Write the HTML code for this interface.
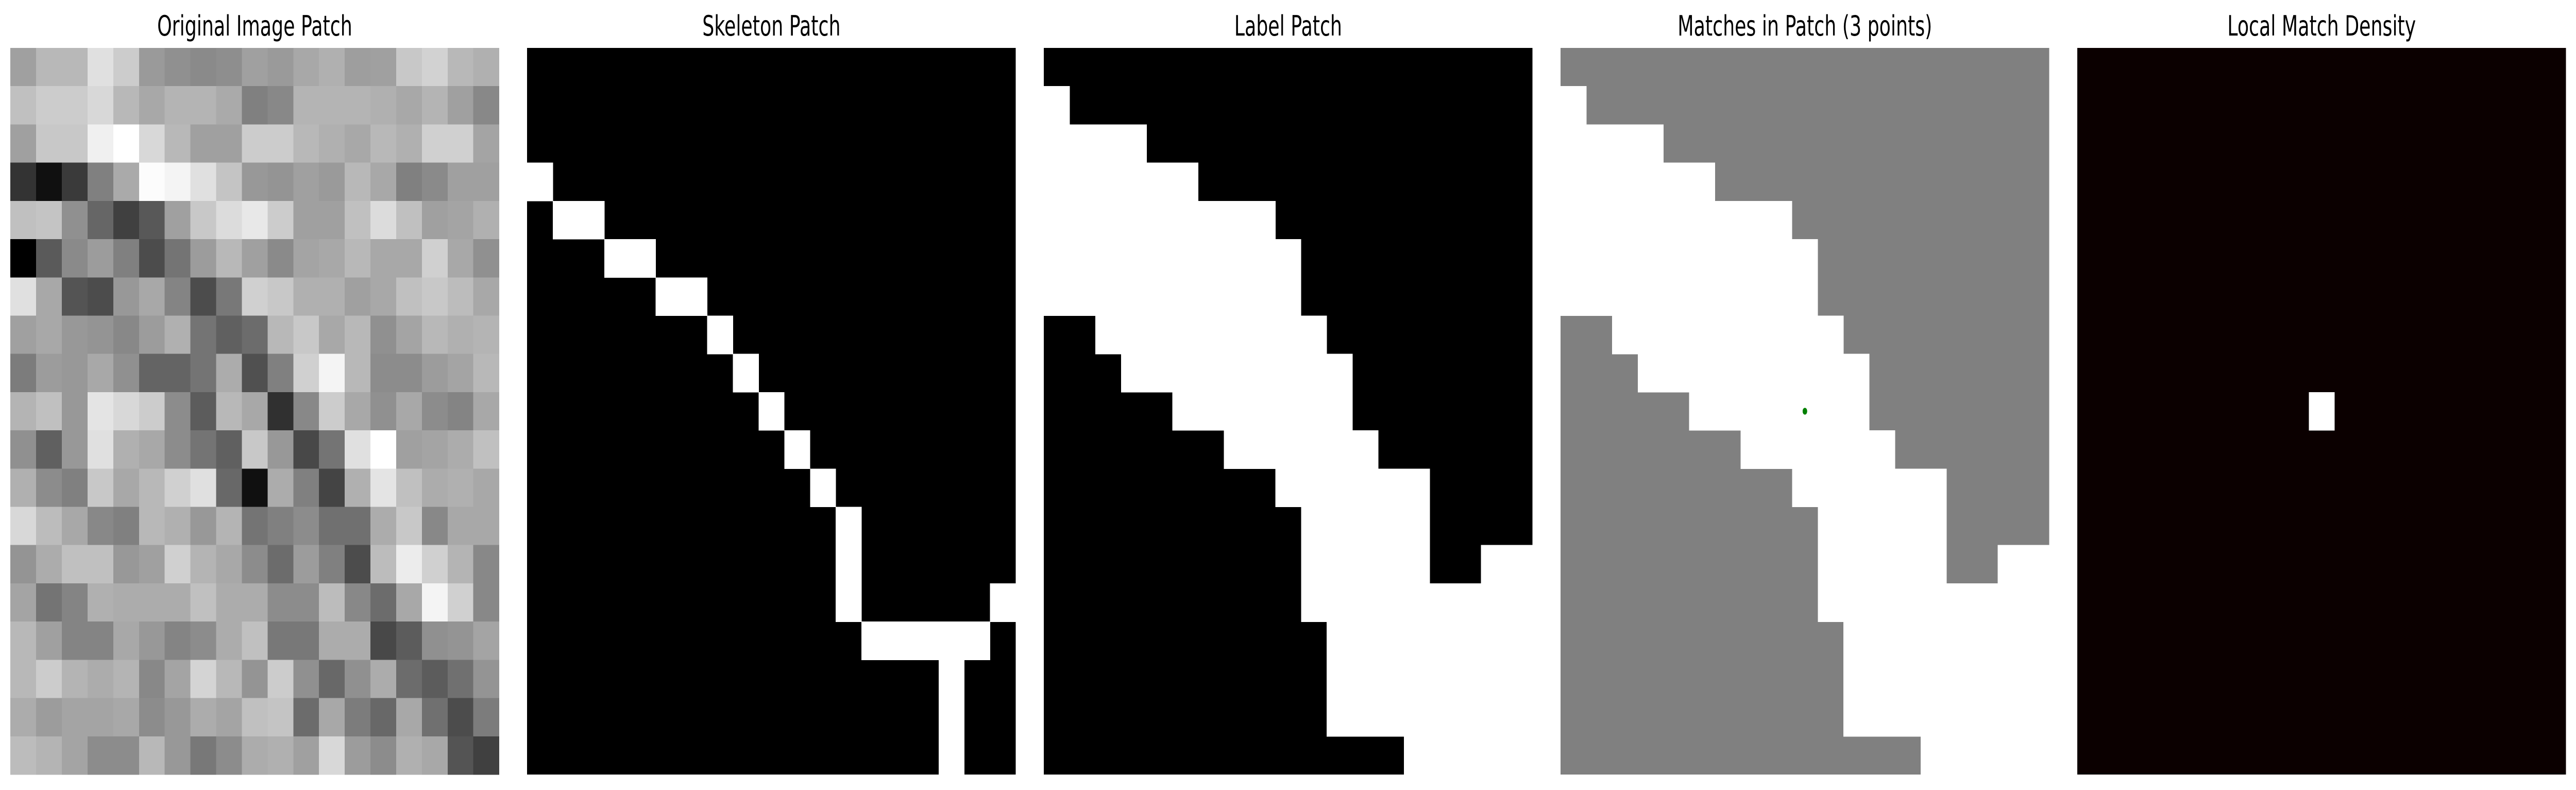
<!DOCTYPE html>
<html><head><meta charset="utf-8"><style>
html,body{margin:0;padding:0;background:#fff;width:100%;height:100%;overflow:hidden;}
svg{display:block;width:100vw;height:100vh;}
text{font-family:"DejaVu Sans","Liberation Sans",sans-serif;font-size:54px;fill:#000;}
</style></head><body>
<svg id="fig" viewBox="0 0 7433 1533" preserveAspectRatio="none" xmlns="http://www.w3.org/2000/svg" shape-rendering="crispEdges">
<rect width="7433" height="1533" fill="#fff"/>
</svg>
<script>
const N = 19;
const panelLefts = [30, 1521, 3012, 4503, 5994];
const panelTop = 93, panelSize = 1410;
const titles = ["Original Image Patch","Skeleton Patch","Label Patch","Matches in Patch (3 points)","Local Match Density"];
const origRows = [
"a0,b8,b8,e0,cc,9a,90,8a,8e,a0,9a,a8,b0,9e,a0,c8,d2,b8,b0",
"c0,cc,cc,d8,b8,a8,b4,b4,aa,80,88,b4,b4,b4,b0,a8,b4,a0,88",
"a0,c8,c8,f0,ff,d8,b8,a0,a0,cc,cc,b8,b0,a8,b8,b0,d0,d0,a4",
"33,10,3a,80,aa,fc,f4,e0,c4,98,94,a0,9a,b8,a8,80,8a,a0,a0",
"c0,c4,90,66,40,58,a0,c8,dc,e8,cc,a0,a0,c0,dc,c0,a0,a4,b0",
"00,5a,8a,9c,80,4c,74,9c,b8,a0,8a,a4,a8,b8,a8,a8,d0,a8,90",
"e0,a8,54,4c,98,a8,84,4c,78,d0,c8,b0,b0,a0,a8,c0,c8,bc,a8",
"a0,a8,98,94,88,9c,b0,74,60,6c,b8,c8,a8,b8,90,a4,b8,b0,b4",
"7c,9c,98,a8,90,64,64,74,ac,50,80,d0,f4,b8,8c,8c,9c,a4,b8",
"b4,c0,98,e4,d8,cc,8c,5c,b8,a8,30,88,cc,a8,90,a8,8c,84,a8",
"90,60,98,e0,b0,a8,8c,74,60,c8,98,48,74,e0,ff,a0,a4,ac,c0",
"b0,8c,80,c8,a8,b8,d0,e0,68,10,ac,80,44,b0,e4,c0,ac,b0,a8",
"d8,bc,a8,88,80,b8,b0,98,b4,74,80,8c,70,70,ac,c8,88,a8,a8",
"94,ac,c0,c0,98,a0,d0,b4,a8,8c,6c,9c,80,4c,bc,ec,d0,b4,88",
"a4,74,84,b0,ac,ac,ac,c0,ac,ac,8c,8c,bc,88,6c,a8,f4,d0,88",
"b8,a0,84,84,a8,98,84,8c,ac,c0,78,78,ac,ac,48,5c,90,94,a4",
"b8,cc,b4,ac,b4,88,a4,d4,b8,94,cc,90,68,90,ac,6c,5c,70,94",
"ac,9c,a4,a4,a8,8c,98,ac,a4,c0,c4,6c,a8,7c,68,a8,70,4c,7c",
"bc,b4,a4,8c,8c,b8,98,78,8c,ac,b0,a0,d8,9c,8c,b0,a8,54,40"];
const skeletonRuns = [[3,0,0],[4,1,2],[5,3,4],[6,5,6],[7,7,7],[8,8,8],[9,9,9],[10,10,10],[11,11,11],[12,12,12],[13,12,12],[14,12,12],[14,18,18],[15,13,17],[16,16,16],[17,16,16],[18,16,16]];
const labelRuns = [[1,0,0],[2,0,3],[3,0,5],[4,0,8],[5,0,9],[6,0,9],[7,2,10],[8,3,11],[9,5,11],[10,7,12],[11,9,14],[12,10,14],[13,10,14],[13,17,18],[14,10,18],[15,11,18],[16,11,18],[17,11,18],[18,14,18]];
const matchPoints = [[9.5,9.5],[9.5,9.5],[9.5,9.5]];
const densityCells = [[9,9]];

const NS = "http://www.w3.org/2000/svg";
const svg = document.getElementById('fig');
const cs = panelSize / N;
function xs(p, c){ return panelLefts[p] + c*cs; }
function ys(r){ return panelTop + r*cs; }
function rect(parent, x, y, w, h, fill, name){
  const r = document.createElementNS(NS,'rect');
  r.setAttribute('x', x.toFixed(2)); r.setAttribute('y', y.toFixed(2));
  r.setAttribute('width', (w+0.6).toFixed(2)); r.setAttribute('height', (h+0.6).toFixed(2));
  r.setAttribute('fill', fill);
  
  
  parent.appendChild(r); return r;
}
function group(name){
  const g = document.createElementNS(NS,'g');
  
  
  svg.appendChild(g); return g;
}
const panelNames = ["original-image-panel","skeleton-panel","label-panel","matches-panel","density-panel"];
const bgs = [null, "#000000", "#000000", "#808080", "#0b0000"];
const fgs = [null, "#ffffff", "#ffffff", "#ffffff", "#ffffff"];
const groups = panelNames.map(n => group(n));
for (let p=0;p<5;p++){
  const t = document.createElementNS(NS,'text');
  t.setAttribute('x', panelLefts[p] + panelSize/2);
  t.setAttribute('y', 69);
  t.setAttribute('text-anchor','middle');
  t.textContent = titles[p];
  
  
  groups[p].appendChild(t);
  if (bgs[p]) {
    rect(groups[p], panelLefts[p], panelTop, panelSize-0.6, panelSize-0.6, bgs[p], 'panel-background');
  }
}
origRows.forEach((row, r) => {
  row.split(',').forEach((h, c) => {
    const v = parseInt(h,16);
    rect(groups[0], xs(0,c), ys(r), cs, cs, `rgb(${v},${v},${v})`, 'pixel-cell');
  });
});
skeletonRuns.forEach(([r,a,b]) => rect(groups[1], xs(1,a), ys(r), (b-a+1)*cs, cs, fgs[1], 'skeleton-run'));
labelRuns.forEach(([r,a,b]) => rect(groups[2], xs(2,a), ys(r), (b-a+1)*cs, cs, fgs[2], 'label-run'));
labelRuns.forEach(([r,a,b]) => rect(groups[3], xs(3,a), ys(r), (b-a+1)*cs, cs, fgs[3], 'label-run'));
matchPoints.forEach(([c,r]) => {
  const ci = document.createElementNS(NS,'circle');
  ci.setAttribute('cx', xs(3,c)); ci.setAttribute('cy', ys(r)); ci.setAttribute('r', 6.5);
  ci.setAttribute('fill', '#008000'); ci.setAttribute('shape-rendering','auto');
  
  
  groups[3].appendChild(ci);
});
densityCells.forEach(([c,r]) => rect(groups[4], xs(4,c), ys(r), cs, cs, fgs[4], 'density-peak-cell'));
</script>
</body></html>
